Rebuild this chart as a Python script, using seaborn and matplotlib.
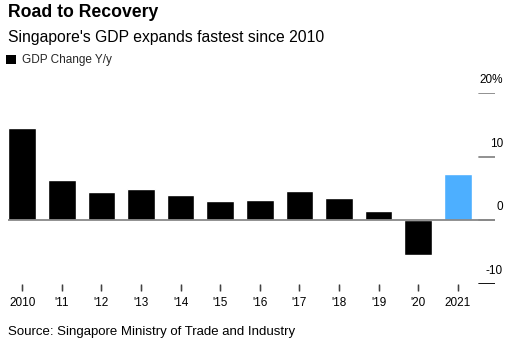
import matplotlib
matplotlib.use("Agg")
import matplotlib.pyplot as plt
import seaborn as sns
import pandas as pd
from matplotlib.patches import Patch
import matplotlib.transforms as mtransforms

years = ["2010", "'11", "'12", "'13", "'14", "'15", "'16", "'17", "'18", "'19", "'20", "2021"]
gdp_change = [14.5, 6.3, 4.4, 4.9, 4.0, 3.1, 3.2, 4.6, 3.5, 1.4, -5.4, 7.2]
bar_colors = ["#000000"] * 11 + ["#4DAFFF"]
y_ticks = [-10, 0, 10, 20]
y_tick_labels = ["-10", "0", "10", "20%"]

sns.set_theme(style="white")
plt.rcParams["font.family"] = ["Liberation Sans", "DejaVu Sans"]

df = pd.DataFrame({"year": years, "gdp": gdp_change})

fig = plt.figure(figsize=(5.30, 3.46), dpi=100)
ax = fig.add_axes([8 / 530, 1 - 284.3 / 346, 487 / 530, (284.3 - 92.7) / 346])

sns.barplot(data=df, x="year", y="gdp", hue="year", palette=bar_colors,
            dodge=False, width=0.7, legend=False, ax=ax, saturation=1)

ax.set_xlim(-0.36, 11.94)
ax.set_ylim(-10, 20)
for s in ax.spines.values():
    s.set_visible(False)

ax.set_xlabel("")
ax.set_ylabel("")
ax.set_yticks([])
ax.tick_params(axis="x", which="major", direction="out", length=5, width=1.0,
               color="#333333", pad=4, labelsize=8.5, labelcolor="#000000",
               bottom=True)

# explicit x tick marks at category positions
xtrans = mtransforms.blended_transform_factory(ax.transData, ax.transAxes)
ax.vlines(ax.get_xticks(), -0.032, -0.002, transform=xtrans, colors="#444444",
          lw=0.9, clip_on=False)

# zero line and short gridline stubs at the right
ax.axhline(0, color="#888888", lw=1.3, zorder=3)
trans = mtransforms.blended_transform_factory(ax.transAxes, ax.transData)
for yv, lab in zip(y_ticks, y_tick_labels):
    col = "#000000" if yv == -10 else "#888888"
    ax.axhline(yv, xmin=(479 - 8) / 487, xmax=1, color=col, lw=1.3, zorder=3)
    ax.text((503 - 8) / 487, yv + 1.1, lab, transform=trans, ha="right", va="bottom",
            fontsize=8.5, color="#000000")

fig.text(8 / 530, 1 - 4 / 346, "Road to Recovery", ha="left", va="top",
         fontsize=12.7, fontweight="bold", color="#000000")
fig.text(8 / 530, 1 - 30 / 346, "Singapore's GDP expands fastest since 2010", ha="left",
         va="top", fontsize=11.3, color="#000000")
fig.legend(handles=[Patch(facecolor="#000000", edgecolor="none", label="GDP Change Y/y")],
           loc="upper left", bbox_to_anchor=(4 / 530, 1 - 52 / 346), frameon=False,
           fontsize=8.5, handlelength=0.8, handleheight=0.8, handletextpad=0.5,
           borderpad=0.2, borderaxespad=0)
fig.text(8 / 530, 1 - 326 / 346, "Source: Singapore Ministry of Trade and Industry",
         ha="left", va="top", fontsize=9.5, color="#000000")

fig.savefig("out.png", dpi=100, facecolor="white")
